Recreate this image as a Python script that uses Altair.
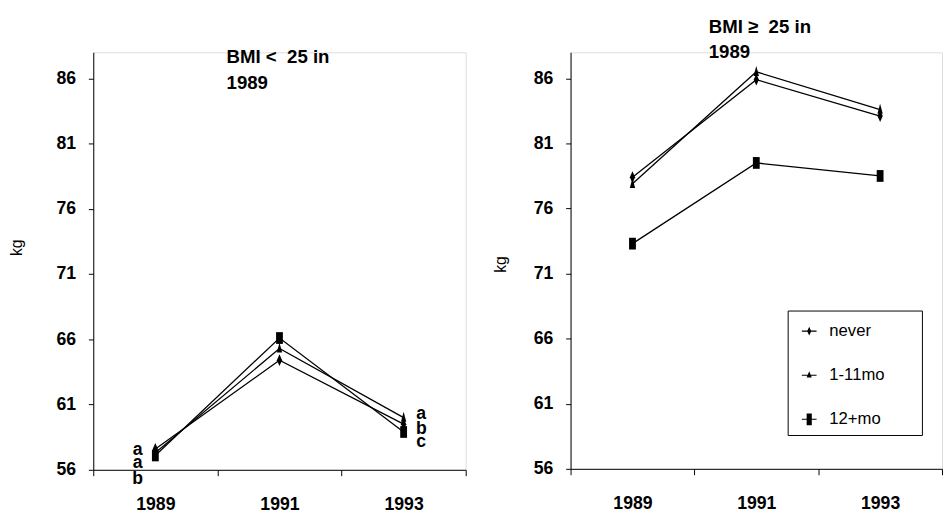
import altair as alt
import pandas as pd

years = ["1989", "1991", "1993"]
groups = ["never", "1-11mo", "12+mo"]

# BMI < 25 in 1989 (kg)
low_never = [57.6, 64.4, 59.5]
low_1_11 = [57.3, 65.3, 60.0]
low_12 = [57.1, 66.1, 58.9]

# BMI >= 25 in 1989 (kg)
high_never = [78.4, 85.9, 83.1]
high_1_11 = [77.9, 86.5, 83.6]
high_12 = [73.3, 79.5, 78.5]

# significance letters (left panel)
letters_1989 = ["a", "a", "b"]
letters_1989_y = [57.5, 56.5, 55.25]
letters_1993 = ["a", "b", "c"]
letters_1993_y = [60.3, 59.1, 58.1]

y_ticks = [56, 61, 66, 71, 76, 81, 86]

FONT = "Liberation Sans"

marker_paths = [
    "M0,-1L0.45,0L0,1L-0.45,0Z",
    "M0,-1L0.45,0.7L-0.45,0.7Z",
    "M-0.58,-1L0.58,-1L0.58,1L-0.58,1Z",
]
LINE = "M-1,-0.07L1,-0.07L1,0.07L-1,0.07Z "
legend_paths = [
    LINE + "M0,-0.6L0.28,0L0,0.6L-0.28,0Z",
    LINE + "M0,-0.55L0.35,0.3L-0.35,0.3Z",
    LINE + "M-0.35,-0.8L0.35,-0.8L0.35,0.8L-0.35,0.8Z",
]


def long_df(a, b, c):
    rows = []
    for g, vals in zip(groups, [a, b, c]):
        for yr, v in zip(years, vals):
            rows.append({"year": yr, "group": g, "kg": v})
    return pd.DataFrame(rows)


low_df = long_df(low_never, low_1_11, low_12)
high_df = long_df(high_never, high_1_11, high_12)

letters_df = pd.DataFrame(
    [{"year": "1989", "letter": l, "kg": v, "side": "L"} for l, v in zip(letters_1989, letters_1989_y)]
    + [{"year": "1993", "letter": l, "kg": v, "side": "R"} for l, v in zip(letters_1993, letters_1993_y)]
)

x_enc = alt.X(
    "year:N",
    sort=years,
    scale=alt.Scale(domain=years, paddingInner=0, paddingOuter=0),
    axis=alt.Axis(
        title=None,
        labelAngle=0,
        tickBand="extent",
        tickSize=6,
        labelPadding=20,
        labelFontSize=18,
        labelFontWeight="bold",
        labelFont=FONT,
        labelColor="black",
        domainColor="black",
        tickColor="black",
        grid=False,
    ),
)


def y_enc(title_x, title_y):
    return alt.Y(
        "kg:Q",
        scale=alt.Scale(domain=[56, 88], nice=False, zero=False),
        axis=alt.Axis(
            title="kg",
            values=y_ticks,
            tickSize=5,
            labelPadding=13,
            labelFontSize=18,
            labelFontWeight="bold",
            labelFont=FONT,
            labelColor="black",
            titleFont=FONT,
            titleFontSize=16,
            titleFontWeight="normal",
            titleColor="black",
            titleX=title_x,
            titleY=title_y,
            domainColor="black",
            tickColor="black",
            grid=False,
        ),
    )


def panel(df, title_text, tx, ty, width, height, with_legend, kgx, kgy):
    base = alt.Chart(df)
    Y = y_enc(kgx, kgy)
    lines = base.mark_line(color="black", strokeWidth=1.3).encode(
        x=x_enc, y=Y, detail="group:N"
    )
    points = base.mark_point(filled=True, color="black", size=144, opacity=1).encode(
        x=x_enc,
        y=Y,
        shape=alt.Shape(
            "group:N", scale=alt.Scale(domain=groups, range=marker_paths), legend=None
        ),
    )
    title = alt.Chart(pd.DataFrame({"t": [title_text]})).mark_text(
        align="left",
        baseline="alphabetic",
        fontSize=19,
        fontWeight="bold",
        font=FONT,
        color="black",
        lineBreak="\n",
        lineHeight=26,
    ).encode(x=alt.value(tx), y=alt.value(ty), text="t:N")
    layers = [lines, points, title]
    if with_legend:
        box = alt.Chart(pd.DataFrame({"b": [0]})).mark_rect(
            fill="white", stroke="black", strokeWidth=1
        ).encode(
            x=alt.value(222), x2=alt.value(359), y=alt.value(264), y2=alt.value(391)
        )
        leg = base.transform_filter("false").mark_point(
            filled=True, color="black", size=225, opacity=1
        ).encode(
            x=x_enc,
            y=Y,
            shape=alt.Shape(
                "group:N",
                scale=alt.Scale(domain=groups, range=legend_paths),
                legend=alt.Legend(
                    title=None,
                    orient="none",
                    legendX=225,
                    legendY=266,
                    padding=10,
                    rowPadding=27,
                    symbolSize=225,
                    symbolFillColor="black",
                    symbolStrokeColor="black",
                    symbolStrokeWidth=0,
                    labelFont=FONT,
                    labelFontSize=17,
                    labelColor="black",
                    labelOffset=12,
                ),
            ),
        )
        layers = [box] + layers + [leg]
    else:
        left_txt = alt.Chart(letters_df).transform_filter("datum.side == 'L'").mark_text(
            fontSize=18, fontWeight="bold", font=FONT, color="black", baseline="middle", dx=-18
        ).encode(x=x_enc, y=Y, text="letter:N")
        right_txt = alt.Chart(letters_df).transform_filter("datum.side == 'R'").mark_text(
            fontSize=18, fontWeight="bold", font=FONT, color="black", baseline="middle", dx=18
        ).encode(x=x_enc, y=Y, text="letter:N")
        layers += [left_txt, right_txt]
    ch = alt.layer(*layers).properties(width=width, height=height)
    if with_legend:
        ch = ch.resolve_scale(shape="independent")
    return ch


left = panel(low_df, "BMI <\u00a0 25 in\n1989", 136, 11, 380, 426, False, -70, 199)
right = panel(high_df, "BMI \u2265\u00a0 25 in\n1989", 141, -20, 379, 425, True, -63, 216)

chart = (
    alt.hconcat(left, right, spacing=26)
    .resolve_scale(shape="independent")
    .properties(padding={"left": 0, "top": 4, "right": 0, "bottom": 0})
    .configure_view(stroke=None)
    .configure(font=FONT)
)

chart.save("out.html", embed_options={"renderer": "svg", "actions": False})
